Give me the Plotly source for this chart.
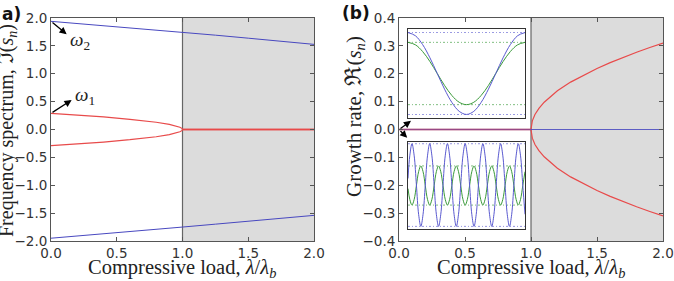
import plotly.graph_objects as go

W, H = 674, 281

# ---------------- panel (a): frequency spectrum ----------------
lam_w2 = [0.0, 0.25, 0.5, 0.75, 1.0, 1.25, 1.5, 1.75, 2.0]
omega2_up = [1.94, 1.893, 1.845, 1.796, 1.745, 1.692, 1.638, 1.583, 1.527]
omega2_dn = [-1.95, -1.903, -1.853, -1.802, -1.75, -1.698, -1.645, -1.592, -1.54]
lam_w1 = [0.0, 0.2, 0.4, 0.6, 0.7, 0.8, 0.9, 0.95, 0.98, 0.995, 1.0]
omega1_up = [0.29, 0.259, 0.225, 0.183, 0.159, 0.13, 0.092, 0.065, 0.041, 0.021, 0.0]
omega1_dn = [-0.29, -0.259, -0.225, -0.183, -0.159, -0.13, -0.092, -0.065, -0.041, -0.021, 0.0]
lam_post = [1.0, 2.0]
zero_post = [0.0, 0.0]

# ---------------- panel (b): growth rate ----------------
lam_pre = [0.0, 1.0]
zero_pre = [0.0, 0.0]
lam_g = [1.0, 1.003, 1.01, 1.03, 1.06, 1.1, 1.2, 1.3, 1.4, 1.5, 1.6, 1.7, 1.8, 1.9, 2.0]
growth_up = [0.0, 0.017, 0.031, 0.054, 0.076, 0.098, 0.139, 0.170, 0.196, 0.219, 0.240, 0.259, 0.277, 0.294, 0.31]
growth_dn = [-v for v in growth_up]

# ---------------- inset mode shapes ----------------
x_top = [0.0, 0.0625, 0.125, 0.1875, 0.25, 0.3125, 0.375, 0.4375, 0.5,
         0.5625, 0.625, 0.6875, 0.75, 0.8125, 0.875, 0.9375, 1.0]
blue_top = [0.96, 0.925, 0.825, 0.676, 0.5, 0.324, 0.175, 0.075, 0.04,
            0.075, 0.175, 0.324, 0.5, 0.676, 0.825, 0.925, 0.96]
green_top = [0.85, 0.823, 0.747, 0.634, 0.5, 0.366, 0.253, 0.177, 0.15,
             0.177, 0.253, 0.366, 0.5, 0.634, 0.747, 0.823, 0.85]
blue_top_lv = [0.96, 0.04]
green_top_lv = [0.85, 0.15]

x_bot = [0.0, 0.0151, 0.0340, 0.0529, 0.0719, 0.0908, 0.1097, 0.1287, 0.1476, 0.1666,
         0.1855, 0.2044, 0.2234, 0.2423, 0.2613, 0.2802, 0.2991, 0.3181, 0.3370, 0.3559,
         0.3749, 0.3938, 0.4128, 0.4317, 0.4506, 0.4696, 0.4885, 0.5075, 0.5264, 0.5453,
         0.5643, 0.5832, 0.6021, 0.6211, 0.6400, 0.6590, 0.6779, 0.6968, 0.7158, 0.7347,
         0.7536, 0.7726, 0.7915, 0.8105, 0.8294, 0.8483, 0.8673, 0.8862, 0.9051, 0.9241,
         0.9430, 0.9620, 0.9809, 1.0]
blue_bot = [0.581, 0.841,
            0.98, 0.841, 0.505, 0.169, 0.03, 0.169, 0.505, 0.841,
            0.98, 0.841, 0.505, 0.169, 0.03, 0.169, 0.505, 0.841,
            0.98, 0.841, 0.505, 0.169, 0.03, 0.169, 0.505, 0.841,
            0.98, 0.841, 0.505, 0.169, 0.03, 0.169, 0.505, 0.841,
            0.98, 0.841, 0.505, 0.169, 0.03, 0.169, 0.505, 0.841,
            0.98, 0.841, 0.505, 0.169, 0.03, 0.169, 0.505, 0.841,
            0.98, 0.841, 0.505, 0.169]
green_bot = [0.464, 0.341,
             0.275, 0.341, 0.5, 0.659, 0.725, 0.659, 0.5, 0.341,
             0.275, 0.341, 0.5, 0.659, 0.725, 0.659, 0.5, 0.341,
             0.275, 0.341, 0.5, 0.659, 0.725, 0.659, 0.5, 0.341,
             0.275, 0.341, 0.5, 0.659, 0.725, 0.659, 0.5, 0.341,
             0.275, 0.341, 0.5, 0.659, 0.725, 0.659, 0.5, 0.341,
             0.275, 0.341, 0.5, 0.659, 0.725, 0.659, 0.5, 0.341,
             0.275, 0.341, 0.5, 0.659]
blue_bot_lv = [0.98, 0.03]
green_bot_lv = [0.725, 0.275]

x_ticks = [0.0, 0.5, 1.0, 1.5, 2.0]
ya_ticks = [-2.0, -1.5, -1.0, -0.5, 0.0, 0.5, 1.0, 1.5, 2.0]
yb_ticks = [-0.4, -0.3, -0.2, -0.1, 0.0, 0.1, 0.2, 0.3, 0.4]

RED = "#e84a4a"
BLUE = "#4848c0"
IBLUE = "#5a5ad0"
IGREEN = "#3a9a3a"
FRAME = "#555555"

def px_x(p):
    return p / W

def px_y(p):
    return 1 - p / H

fig = go.Figure()

def line(x, y, color, xa, ya, width=1.2, opacity=1.0, shape="linear", dash=None):
    fig.add_trace(go.Scatter(x=x, y=y, mode="lines", xaxis=xa, yaxis=ya,
                             line=dict(color=color, width=width, shape=shape, dash=dash),
                             opacity=opacity, showlegend=False, hoverinfo="skip"))

# panel (a)
line(lam_w2, omega2_up, BLUE, "x", "y", width=1.0)
line(lam_w2, omega2_dn, BLUE, "x", "y", width=1.0)
line(lam_w1, omega1_up, RED, "x", "y")
line(lam_w1, omega1_dn, RED, "x", "y")
line(lam_post, zero_post, RED, "x", "y", width=1.3)
line(lam_post, zero_post, RED, "x", "y", width=1.3)

# panel (b)
line(lam_pre, zero_pre, RED, "x2", "y2", width=1.3)
line(lam_g, growth_up, RED, "x2", "y2")
line(lam_g, growth_dn, RED, "x2", "y2")
line(lam_pre, zero_pre, BLUE, "x2", "y2", width=1.3, opacity=0.5)
line(lam_post, zero_post, BLUE, "x2", "y2", width=1.1, opacity=0.85)

# insets
DD = "2px,2px,1px,2px"
for v in blue_top_lv:
    line([0, 1], [v, v], IBLUE, "x3", "y3", width=0.8, opacity=0.8, dash=DD)
for v in green_top_lv:
    line([0, 1], [v, v], IGREEN, "x3", "y3", width=0.8, opacity=0.8, dash=DD)
line(x_top, green_top, IGREEN, "x3", "y3", width=1.0, shape="spline")
line(x_top, blue_top, IBLUE, "x3", "y3", width=1.0, shape="spline")

for v in blue_bot_lv:
    line([0, 1], [v, v], IBLUE, "x4", "y4", width=0.8, opacity=0.8, dash=DD)
for v in green_bot_lv:
    line([0, 1], [v, v], IGREEN, "x4", "y4", width=0.8, opacity=0.8, dash=DD)
line(x_bot, green_bot, IGREEN, "x4", "y4", width=1.0, shape="spline")
line(x_bot, blue_bot, IBLUE, "x4", "y4", width=1.0, shape="spline")

tickfont = dict(family="DejaVu Sans", size=13.5, color="#333333")

def main_axis(dom, rng, tv, anchor):
    return dict(domain=dom, range=rng, tickvals=tv, tickformat=".1f",
                showline=True, linecolor=FRAME, linewidth=1, mirror="ticks",
                ticks="inside", ticklen=4, tickwidth=1, tickcolor=FRAME,
                tickfont=tickfont, showgrid=False, zeroline=False,
                anchor=anchor, fixedrange=True, automargin=False)

def inset_axis(dom, anchor):
    return dict(domain=dom, range=[0, 1], showline=True, linecolor="#333333",
                linewidth=1, mirror=True, ticks="", showticklabels=False,
                showgrid=False, zeroline=False, anchor=anchor, fixedrange=True,
                automargin=False)

ydom = [px_y(241), px_y(18)]
fig.update_layout(
    template="none",
    width=W, height=H, margin=dict(l=0, r=0, t=0, b=0, pad=0, autoexpand=False),
    paper_bgcolor="white", plot_bgcolor="white", showlegend=False,
    xaxis=main_axis([px_x(51), px_x(314)], [0, 2], x_ticks, "y"),
    yaxis=main_axis(ydom, [-2, 2], ya_ticks, "x"),
    xaxis2=main_axis([px_x(399), px_x(663)], [0, 2], x_ticks, "y2"),
    yaxis2=main_axis(ydom, [-0.4, 0.4], yb_ticks, "x2"),
    xaxis3=inset_axis([px_x(408), px_x(525)], "y3"),
    yaxis3=inset_axis([px_y(118), px_y(29)], "x3"),
    xaxis4=inset_axis([px_x(408), px_x(525)], "y4"),
    yaxis4=inset_axis([px_y(229), px_y(142)], "x4"),
)

shapes = []
for xr, yr in (("x", "y domain"), ("x2", "y2 domain")):
    shapes.append(dict(type="rect", xref=xr, yref=yr, x0=1, x1=2, y0=0, y1=1,
                       fillcolor="#dcdcdc", line=dict(width=0), layer="below"))
    shapes.append(dict(type="line", xref=xr, yref=yr, x0=1, x1=1, y0=0, y1=1,
                       line=dict(color="#666666", width=1.2), layer="below"))
fig.update_layout(shapes=shapes)

serif = "Liberation Serif"
ann = []
base = dict(xref="paper", yref="paper", showarrow=False, xanchor="center", yanchor="middle")
# axis titles
ann.append(dict(base, text="Frequency spectrum, <span style='font-size:22px'>ℑ</span>(<i>s</i><sub><i>n</i></sub>)",
                x=px_x(7), y=px_y(131), textangle=-90,
                font=dict(family=serif, size=20, color="#222")))
ann.append(dict(base, text="Growth rate, <span style='font-size:23px'>ℜ</span>(<i>s</i><sub><i>n</i></sub>)",
                x=px_x(354), y=px_y(117), textangle=-90,
                font=dict(family=serif, size=21, color="#222")))
for cx in (182, 531):
    ann.append(dict(base, text="Compressive load, <i>λ</i>/<i>λ</i><sub><i>b</i></sub>",
                    x=px_x(cx), y=px_y(268),
                    font=dict(family=serif, size=20.5, color="#222")))
# panel labels
ann.append(dict(base, text="<b>a)</b>", x=0, y=px_y(2), xanchor="left", yanchor="top",
                font=dict(family="DejaVu Sans", size=17, color="#111")))
ann.append(dict(base, text="<b>(b)</b>", x=px_x(340), y=px_y(1), xanchor="left", yanchor="top",
                font=dict(family="DejaVu Sans", size=17, color="#111")))
# omega labels
ann.append(dict(text="<i>ω</i><sub>2</sub>", x=0.13, y=1.58, xref="x", yref="y",
                xanchor="left", yanchor="middle", showarrow=False,
                font=dict(family=serif, size=19, color="#222")))
ann.append(dict(text="<i>ω</i><sub>1</sub>", x=0.17, y=0.60, xref="x", yref="y",
                xanchor="left", yanchor="middle", showarrow=False,
                font=dict(family=serif, size=19, color="#222")))
# arrows
arrow = dict(text="", showarrow=True, arrowhead=2, arrowsize=1.1, arrowwidth=1.3,
             arrowcolor="black", standoff=0, startstandoff=0)
ann.append(dict(arrow, x=0.119, y=1.708, ax=0.0, ay=1.94, xref="x", yref="y", axref="x", ayref="y"))
ann.append(dict(arrow, x=0.157, y=0.529, ax=0.0, ay=0.29, xref="x", yref="y", axref="x", ayref="y"))
ann.append(dict(arrow, x=0.091, y=0.031, ax=0.0, ay=0.0, xref="x2", yref="y2", axref="x2", ayref="y2"))
ann.append(dict(arrow, x=0.062, y=-0.03, ax=0.0, ay=0.0, xref="x2", yref="y2", axref="x2", ayref="y2"))
fig.update_layout(annotations=ann)

fig.write_html("out.html")
